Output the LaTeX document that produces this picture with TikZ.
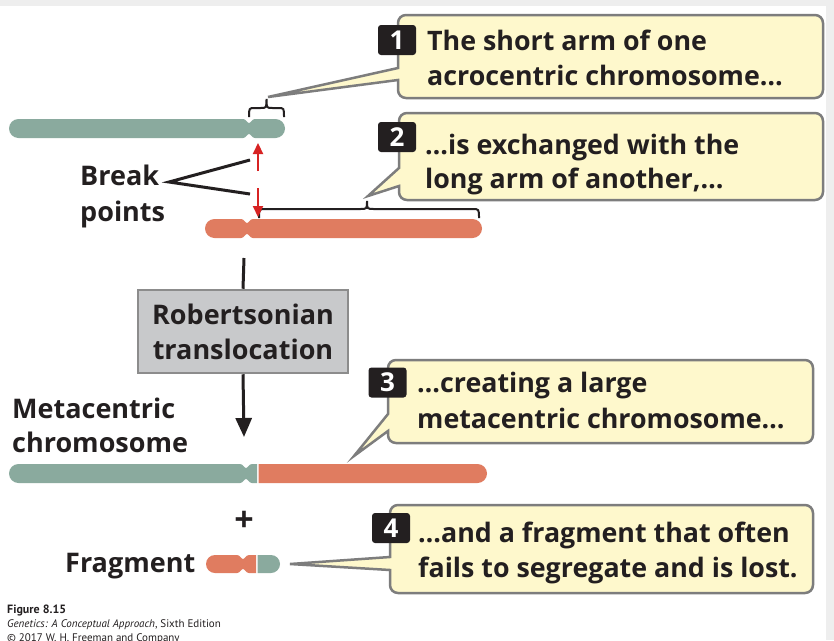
\documentclass[tikz,border=0pt]{standalone}
\usepackage{fontspec}
\setmainfont{Open Sans}
\newfontfamily\footfont{PT Sans}
\usetikzlibrary{arrows.meta}
\definecolor{chromgreen}{RGB}{138,170,158}
\definecolor{chromred}{RGB}{224,124,96}
\definecolor{callfill}{RGB}{254,248,204}
\definecolor{calldraw}{RGB}{125,125,125}
\definecolor{boxfill}{RGB}{200,201,203}
\definecolor{boxdraw}{RGB}{140,140,140}
\definecolor{arrowred}{RGB}{215,35,35}
\definecolor{inkblack}{RGB}{35,31,32}
\definecolor{bggray}{RGB}{238,238,238}
\newcommand\mycallout[8]{%
  \draw[callout] (#1,-#5) -- (#1,-#2-8) arc[start angle=180,end angle=90,radius=8pt]
    -- (#3-8,-#2) arc[start angle=90,end angle=0,radius=8pt]
    -- (#3,-#4+8) arc[start angle=0,end angle=-90,radius=8pt]
    -- (#1+8,-#4) arc[start angle=270,end angle=180,radius=8pt]
    -- (#1,-#6) -- (#7,-#8) -- cycle;}
\begin{document}
\begin{tikzpicture}[x=1pt,y=1pt,
  callout/.style={fill=callfill,draw=calldraw,line width=2.5pt},
  numbox/.style={fill=inkblack,text=white,rounded corners=3pt,minimum width=38pt,minimum height=30pt,inner sep=0pt,font=\bfseries\fontsize{26}{26}\selectfont},
  ctext/.style={anchor=base west,inner sep=0pt,text=inkblack,font=\bfseries\fontsize{26.8}{30}\selectfont},
  lbl/.style={anchor=base west,inner sep=0pt,text=inkblack,font=\bfseries\fontsize{27}{32}\selectfont},
  foot/.style={anchor=base west,inner sep=0pt,text=inkblack,font=\footfont\fontsize{11}{12}\selectfont},
  bracestyle/.style={draw=inkblack,line width=2pt},
  redarrow/.style={draw=arrowred,line width=2.2pt,-{Triangle[length=11pt,width=10pt]}},
  mainline/.style={draw=inkblack,line width=3pt}
]
\fill[bggray] (0,0) rectangle (834,-640);
\fill[white] (0,-6) rectangle (826,-640);
\useasboundingbox (0,0) rectangle (834,-640);

% chromosome 1 (green, acrocentric)
\fill[chromgreen] (18.5,-119) -- (243,-119) .. controls (246,-119) and (247,-123) .. (249,-123) .. controls (251,-123) and (252,-119) .. (255,-119) -- (275.5,-119) arc[start angle=90,end angle=-90,radius=9.5pt] -- (255,-138) .. controls (252,-138) and (251,-134) .. (249,-134) .. controls (247,-134) and (246,-138) .. (243,-138) -- (18.5,-138) arc[start angle=270,end angle=90,radius=9.5pt] -- cycle;
% chromosome 2 (red)
\fill[chromred] (214.5,-219) -- (241,-219) .. controls (244,-219) and (245,-223) .. (247,-223) .. controls (249,-223) and (250,-219) .. (253,-219) -- (472.5,-219) arc[start angle=90,end angle=-90,radius=9.5pt] -- (253,-238) .. controls (250,-238) and (249,-234) .. (247,-234) .. controls (245,-234) and (244,-238) .. (241,-238) -- (214.5,-238) arc[start angle=270,end angle=90,radius=9.5pt] -- cycle;
% metacentric
\fill[chromgreen] (18.5,-464) -- (240,-464) .. controls (243,-464) and (244,-468) .. (246,-468) .. controls (248,-468) and (249,-464) .. (252,-464) -- (257,-464) -- (257,-483) -- (252,-483) .. controls (249,-483) and (248,-479) .. (246,-479) .. controls (244,-479) and (243,-483) .. (240,-483) -- (18.5,-483) arc[start angle=270,end angle=90,radius=9.5pt] -- cycle;
\fill[chromred] (258.5,-464) -- (477.5,-464) arc[start angle=90,end angle=-90,radius=9.5pt] -- (258.5,-483) -- cycle;
% fragment
\fill[chromred] (215,-555) -- (237,-555) .. controls (240,-555) and (241,-559) .. (243,-559) .. controls (245,-559) and (246,-555) .. (249,-555) -- (256,-555) -- (256,-573) -- (249,-573) .. controls (246,-573) and (245,-569) .. (243,-569) .. controls (241,-569) and (240,-573) .. (237,-573) -- (215,-573) arc[start angle=270,end angle=90,radius=9pt] -- cycle;
\fill[chromgreen] (257.5,-555) -- (271,-555) arc[start angle=90,end angle=-90,radius=9pt] -- (257.5,-573) -- cycle;

% braces
\draw[bracestyle] (249,-117) .. controls (249,-108) .. (255,-108) -- (260.5,-108) .. controls (266.5,-108) .. (266.5,-99) .. controls (266.5,-108) .. (272.5,-108) -- (278,-108) .. controls (284,-108) .. (284,-117);
\draw[bracestyle] (259,-218) .. controls (259,-209) .. (266,-209) -- (360,-209) .. controls (367,-209) .. (367,-201) .. controls (367,-209) .. (374,-209) -- (472,-209) .. controls (479,-209) .. (479,-218);

% callouts
\mycallout{398}{15}{823}{98}{68}{80}{268}{97}
\mycallout{399}{113}{823}{200}{168}{186}{368}{196}
\mycallout{388}{360}{813}{443}{414}{431}{354}{456}
\mycallout{390}{505}{813}{593}{557}{570}{290}{564}

\node[numbox] (n1) at (397,-40) {1};
\node[numbox] (n2) at (397,-137) {2};
\node[numbox] (n3) at (387.5,-382.5) {3};
\node[numbox] (n4) at (391,-528) {4};

\node[ctext] (t1a) at (427,-50) {The short arm of one};
\node[ctext] (t1b) at (427,-85) {acrocentric chromosome…};
\node[ctext] (t2a) at (425,-154) {…is exchanged with the};
\node[ctext] (t2b) at (425,-188) {long arm of another,…};
\node[ctext] (t3a) at (417,-392) {…creating a large};
\node[ctext] (t3b) at (417,-428) {metacentric chromosome…};
\node[ctext] (t4a) at (418,-542) {…and a fragment that often};
\node[ctext] (t4b) at (418,-577) {fails to segregate and is lost.};

% labels
\node[lbl] (brk) at (80,-185) {Break};
\node[lbl] (pts) at (80,-221) {points};
\node[lbl] (meta) at (12,-418) {Metacentric};
\node[lbl] (chr) at (12,-452) {chromosome};
\node[lbl] (frag) at (65,-572) {Fragment};
\node[inner sep=0pt,text=inkblack,font=\bfseries\fontsize{34}{34}\selectfont] (plus) at (244,-521) {+};

% break point pointers
\coordinate (bp) at (169,-182);
\coordinate (bu) at (250,-160);
\coordinate (bd) at (250,-194);
\draw[mainline,line join=miter] (bu) -- (bp) -- (bd);

% red arrows
\coordinate (ru0) at (258,-171);
\coordinate (ru1) at (258,-143);
\coordinate (rd0) at (258,-188);
\coordinate (rd1) at (258,-217);
\draw[redarrow] (ru0) -- (ru1);
\draw[redarrow] (rd0) -- (rd1);

% main arrow and box
\node[fill=boxfill,draw=boxdraw,line width=2.5pt,minimum width=210pt,minimum height=83pt,inner sep=0pt,align=center,text=inkblack,font=\bfseries\fontsize{27}{35}\selectfont] (rt) at (243,-331.5) {Robertsonian\\translocation};
\coordinate (a0) at (244,-258);
\coordinate (a1) at (244,-437);
\draw[mainline] (a0) -- (rt.north);
\draw[mainline,-{Triangle[length=19pt,width=16pt]}] (rt.south) -- (a1);

% footer
\node[foot,font=\footfont\bfseries\fontsize{12}{13}\selectfont] (f1) at (7,-613) {Figure 8.15};
\node[foot] (f2) at (7,-627) {\textit{Genetics: A Conceptual Approach}, Sixth Edition};
\node[foot] (f3) at (7,-641) {© 2017 W. H. Freeman and Company};
\end{tikzpicture}
\end{document}
